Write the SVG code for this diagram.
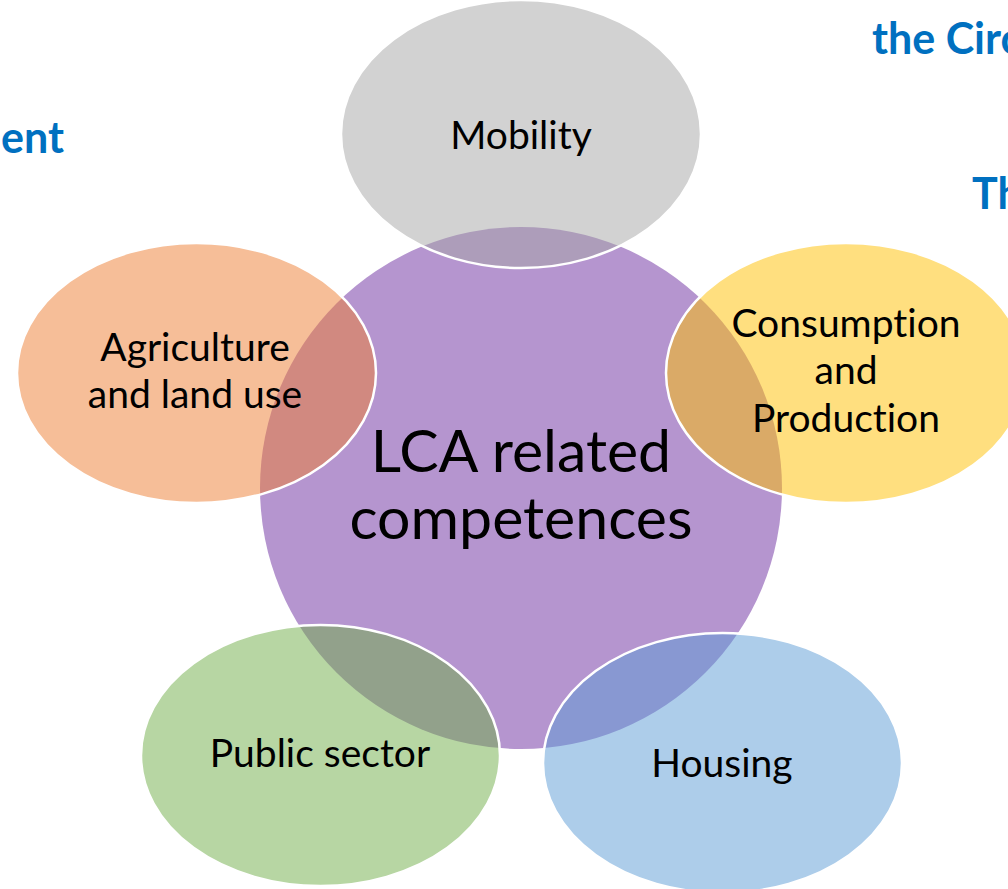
<svg xmlns="http://www.w3.org/2000/svg" width="1008" height="889" viewBox="0 0 1008 889">
  <style>
    text { font-variant-ligatures: none; font-feature-settings: "liga" 0, "clig" 0; }
    .bg { font-family: Lato, "Open Sans", sans-serif; font-weight: bold; font-size: 43px; fill: #0070C0; }
    .lbl { font-family: Lato, "Open Sans", sans-serif; font-size: 39px; fill: #000000; text-anchor: middle; }
    .center { font-family: Lato, "Open Sans", sans-serif; font-size: 59px; fill: #000000; text-anchor: middle; }
    .petal { fill-opacity: 0.5; stroke: #FFFFFF; stroke-width: 2.5; }
  </style>
  <rect width="1008" height="889" fill="#FFFFFF"/>
  <g id="background-text">
    <text class="bg" x="872" y="54">the Circ</text>
    <text class="bg" x="64" y="153" text-anchor="end">ent</text>
    <text class="bg" x="972" y="209">Th</text>
  </g>
  <g id="node-lca">
    <circle cx="521" cy="488" r="261" fill="#B595CF"/>
  </g>
  <g id="node-mobility">
    <ellipse class="petal" cx="521" cy="134" rx="180" ry="134" fill="#A5A5A5"/>
  </g>
  <g id="node-agriculture">
    <ellipse class="petal" cx="196.5" cy="373" rx="179.5" ry="130" fill="#ED7D31"/>
  </g>
  <g id="node-consumption">
    <ellipse class="petal" cx="846" cy="373" rx="180" ry="130" fill="#FFC000"/>
  </g>
  <g id="node-public">
    <ellipse class="petal" cx="320.5" cy="755.5" rx="179.5" ry="130.5" fill="#70AD47"/>
  </g>
  <g id="node-housing">
    <ellipse class="petal" cx="722.5" cy="763" rx="179.5" ry="130" fill="#5B9BD5"/>
  </g>
  <g id="labels">
    <text class="center" x="521" y="472">LCA related</text>
    <text class="center" x="521" y="539">competences</text>
    <text class="lbl" x="521" y="149">Mobility</text>
    <text class="lbl" x="195" y="361">Agriculture</text>
    <text class="lbl" x="195" y="408">and land use</text>
    <text class="lbl" x="846" y="337">Consumption</text>
    <text class="lbl" x="846" y="384">and</text>
    <text class="lbl" x="846" y="432">Production</text>
    <text class="lbl" x="320" y="767">Public sector</text>
    <text class="lbl" x="722" y="777">Housing</text>
  </g>
  <g id="connectors"/>
</svg>
